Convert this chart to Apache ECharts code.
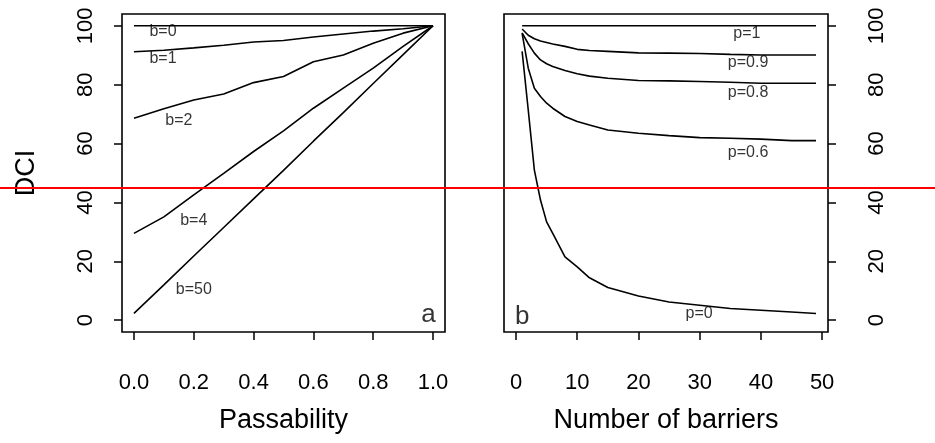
<!DOCTYPE html>
<html>
<head>
<meta charset="utf-8">
<script src="https://cdn.jsdelivr.net/npm/echarts@6/dist/echarts.min.js"></script>
<style>
html,body{margin:0;padding:0;background:#fff;}
#chart{width:935px;height:443px;}
</style>
</head>
<body>
<div id="chart"></div>
<script>
// ---- Panel a: DCI vs passability for several barrier counts ----
const passability = [0, 0.1, 0.2, 0.3, 0.4, 0.5, 0.6, 0.7, 0.8, 0.9, 1.0];
const dciB0  = [100, 100, 100, 100, 100, 100, 100, 100, 100, 100, 100];
const dciB1  = [91.2, 91.7, 92.5, 93.4, 94.5, 95.0, 96.2, 97.2, 98.2, 99.0, 100];
const dciB2  = [68.6, 71.8, 74.8, 76.8, 80.7, 82.8, 87.8, 90.1, 94.1, 97.5, 100];
const dciB4  = [29.5, 35.1, 42.6, 49.9, 57.3, 64.3, 72.0, 78.8, 85.6, 93.0, 100];
const dciB50 = [2.3, 12.0, 21.8, 31.5, 41.2, 50.9, 60.8, 70.5, 80.4, 90.2, 100];
const seriesNamesA = ['b=0', 'b=1', 'b=2', 'b=4', 'b=50'];

// ---- Panel b: DCI vs number of barriers for several passabilities ----
const barriers = [1, 2, 3, 4, 5, 6, 8, 10, 12, 15, 20, 25, 30, 35, 40, 45, 49];
const dciP1  = [100, 100, 100, 100, 100, 100, 100, 100, 100, 100, 100, 100, 100, 100, 100, 100, 100];
const dciP09 = [98.9, 96.8, 95.6, 94.8, 94.3, 93.8, 93.0, 92.0, 91.6, 91.3, 90.8, 90.7, 90.6, 90.3, 90.1, 90.1, 90.1];
const dciP08 = [97.6, 93.9, 90.7, 88.4, 87.1, 86.2, 84.8, 83.7, 82.9, 82.2, 81.4, 81.3, 81.1, 80.8, 80.5, 80.5, 80.5];
const dciP06 = [97.4, 85.6, 78.8, 76.0, 73.7, 72.0, 69.2, 67.5, 66.3, 64.6, 63.5, 62.7, 62.0, 61.8, 61.5, 61.0, 61.0];
const dciP0  = [91.3, 71.4, 51.0, 40.8, 33.4, 29.5, 21.5, 18.1, 14.4, 11.1, 8.2, 6.2, 5.1, 4.0, 3.4, 2.8, 2.3];
const seriesNamesB = ['p=1', 'p=0.9', 'p=0.8', 'p=0.6', 'p=0'];

// ---- Ticks ----
const xTicksA = [0, 0.2, 0.4, 0.6, 0.8, 1.0];
const xTicksB = [0, 10, 20, 30, 40, 50];
const yTicks = [0, 20, 40, 60, 80, 100];

// ---- In-plot text annotations (data coordinates) ----
const curveLabelsA = [
  {text: 'b=0', x: 0.097, y: 98.0},
  {text: 'b=1', x: 0.097, y: 88.8},
  {text: 'b=2', x: 0.15, y: 67.7},
  {text: 'b=4', x: 0.20, y: 33.7},
  {text: 'b=50', x: 0.20, y: 10.5}
];
const curveLabelsB = [
  {text: 'p=1', x: 37.7, y: 97.3},
  {text: 'p=0.9', x: 37.9, y: 87.4},
  {text: 'p=0.8', x: 37.9, y: 77.2},
  {text: 'p=0.6', x: 37.9, y: 57.1},
  {text: 'p=0', x: 29.9, y: 2.4}
];
const panelLetterA = {text: 'a', x: 0.985, y: 1.8};
const panelLetterB = {text: 'b', x: 1.0, y: 1.2};
const referenceLineValue = 45;

const FONT = 'Liberation Sans, Arial, Helvetica, sans-serif';
const black = '#000';

function zip(xs, ys) { return xs.map((x, i) => [x, ys[i]]); }

function lineSeries(name, xs, ys, axisIdx) {
  return {
    name: name, type: 'line', xAxisIndex: axisIdx, yAxisIndex: axisIdx,
    data: zip(xs, ys), showSymbol: false, symbol: 'none', silent: true,
    lineStyle: {color: black, width: 1.6}, z: 3
  };
}

function textSeries(items, axisIdx, fontSize) {
  return {
    type: 'scatter', xAxisIndex: axisIdx, yAxisIndex: axisIdx,
    symbolSize: 0, silent: true, z: 4,
    data: items.map(d => ({value: [d.x, d.y], name: d.text})),
    label: {
      show: true, position: 'inside', formatter: p => p.name,
      color: black, fontFamily: FONT, fontSize: fontSize
    }
  };
}

const tickStyle = {show: true, inside: false, length: 8, lineStyle: {color: black, width: 1.5}};
const labelBase = {color: black, fontFamily: FONT, fontSize: 22};
const hiddenLine = {show: false, onZero: false};

const chart = echarts.init(document.getElementById('chart'), null, {renderer: 'canvas'});

const option = {
  animation: false,
  backgroundColor: '#fff',
  grid: [
    {left: 122, right: 490, top: 14, bottom: 111, show: true, borderColor: black, borderWidth: 1.6, backgroundColor: 'transparent', outerBoundsMode: 'none'},
    {left: 504, right: 107, top: 14, bottom: 111, show: true, borderColor: black, borderWidth: 1.6, backgroundColor: 'transparent', outerBoundsMode: 'none'},
    {left: 0, right: 0, top: 14, bottom: 111, show: false, outerBoundsMode: 'none'}
  ],
  xAxis: [
    {
      gridIndex: 0, type: 'value', min: -0.04, max: 1.04,
      axisLine: hiddenLine, splitLine: {show: false},
      axisTick: Object.assign({customValues: xTicksA}, tickStyle),
      axisLabel: Object.assign({customValues: xTicksA, margin: 40, formatter: v => v.toFixed(1)}, labelBase),
      name: 'Passability', nameLocation: 'middle', nameGap: 75,
      nameTextStyle: {color: black, fontFamily: FONT, fontSize: 27}
    },
    {
      gridIndex: 1, type: 'value', min: -1.96, max: 50.96,
      axisLine: hiddenLine, splitLine: {show: false},
      axisTick: Object.assign({customValues: xTicksB}, tickStyle),
      axisLabel: Object.assign({customValues: xTicksB, margin: 40, formatter: v => String(v)}, labelBase),
      name: 'Number of barriers', nameLocation: 'middle', nameGap: 75,
      nameTextStyle: {color: black, fontFamily: FONT, fontSize: 27}
    },
    {gridIndex: 2, type: 'value', min: 0, max: 1, show: false}
  ],
  yAxis: [
    {
      gridIndex: 0, type: 'value', min: -4, max: 104, position: 'left',
      axisLine: hiddenLine, splitLine: {show: false},
      axisTick: Object.assign({customValues: yTicks}, tickStyle),
      axisLabel: Object.assign({customValues: yTicks, margin: 25, rotate: 90}, labelBase),
      name: 'DCI', nameLocation: 'middle', nameRotate: 90, nameGap: 82,
      nameTextStyle: {color: black, fontFamily: FONT, fontSize: 27}
    },
    {
      gridIndex: 1, type: 'value', min: -4, max: 104, position: 'right',
      axisLine: hiddenLine, splitLine: {show: false},
      axisTick: Object.assign({customValues: yTicks}, tickStyle),
      axisLabel: Object.assign({customValues: yTicks, margin: 38, rotate: 90}, labelBase)
    },
    {gridIndex: 2, type: 'value', min: -4, max: 104, show: false}
  ],
  series: [
    lineSeries(seriesNamesA[0], passability, dciB0, 0),
    lineSeries(seriesNamesA[1], passability, dciB1, 0),
    lineSeries(seriesNamesA[2], passability, dciB2, 0),
    lineSeries(seriesNamesA[3], passability, dciB4, 0),
    lineSeries(seriesNamesA[4], passability, dciB50, 0),
    lineSeries(seriesNamesB[0], barriers, dciP1, 1),
    lineSeries(seriesNamesB[1], barriers, dciP09, 1),
    lineSeries(seriesNamesB[2], barriers, dciP08, 1),
    lineSeries(seriesNamesB[3], barriers, dciP06, 1),
    lineSeries(seriesNamesB[4], barriers, dciP0, 1),
    textSeries(curveLabelsA, 0, 16),
    textSeries(curveLabelsB, 1, 16),
    textSeries([panelLetterA], 0, 26),
    textSeries([panelLetterB], 1, 26),
    {
      type: 'line', xAxisIndex: 2, yAxisIndex: 2, data: [], silent: true, z: 10,
      markLine: {
        silent: true, symbol: 'none', animation: false,
        label: {show: false},
        lineStyle: {color: '#ff0000', width: 2, type: 'solid'},
        data: [{yAxis: referenceLineValue}]
      }
    }
  ]
};
chart.setOption(option);
</script>
</body>
</html>
